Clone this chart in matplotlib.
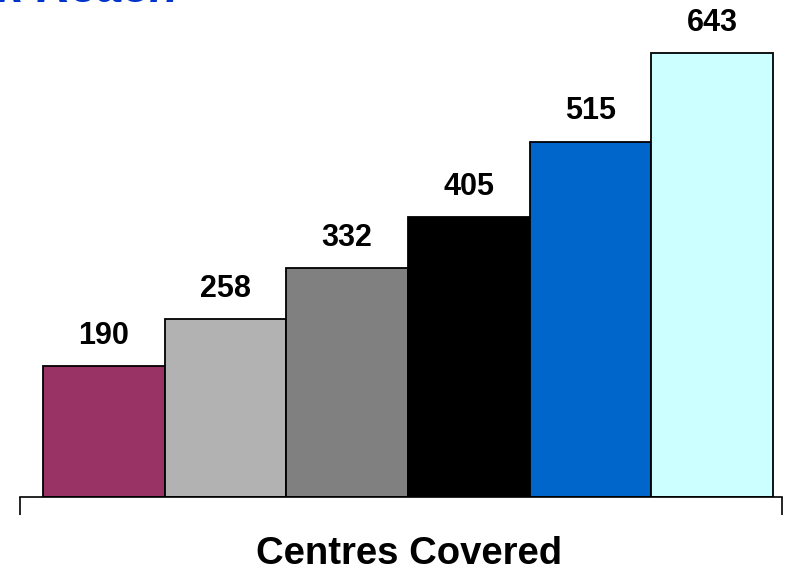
import matplotlib
matplotlib.use("Agg")
import matplotlib.pyplot as plt
import numpy as np

# Centres covered, one bar per period
values = [190, 258, 332, 405, 515, 643]
bar_colors = ["#993366", "#b2b2b2", "#808080", "#000000", "#0066cc", "#ccffff"]
category_label = "Centres Covered"
title_text = "Network Reach"

plt.rcParams["font.family"] = ["Liberation Sans", "DejaVu Sans"]

fig = plt.figure(figsize=(8, 5.7), dpi=100)
ax = fig.add_axes([0.025, 0.128, 0.9525, 0.872])

x = np.arange(len(values))
ax.bar(x, values, width=1.0, color=bar_colors, edgecolor="black", linewidth=1.3)

for xi, v in zip(x, values):
    ax.annotate(f"{v}", (xi, v), xytext=(0, 11), textcoords="offset points",
                ha="center", va="bottom", fontsize=22, fontweight="bold")

ax.set_xlim(-0.689, 5.574)
ax.set_ylim(0, 720)

for side in ("top", "right", "left"):
    ax.spines[side].set_visible(False)
ax.spines["bottom"].set_linewidth(1.2)
ax.set_yticks([])
ax.set_xticks([-0.689, 5.574])
ax.set_xticklabels([])
ax.tick_params(axis="x", length=13, width=1.2, direction="out")

fig.text(409 / 800, 6 / 570, category_label, ha="center", va="baseline",
         fontsize=27.5, fontweight="bold")

# Title sits almost entirely above the visible canvas
fig.text(178 / 800, 1 - 2.5 / 570, title_text, ha="right", va="baseline",
         fontsize=34, fontweight="bold", fontstyle="italic", color="#0033cc")

fig.savefig("out.png", dpi=100)
